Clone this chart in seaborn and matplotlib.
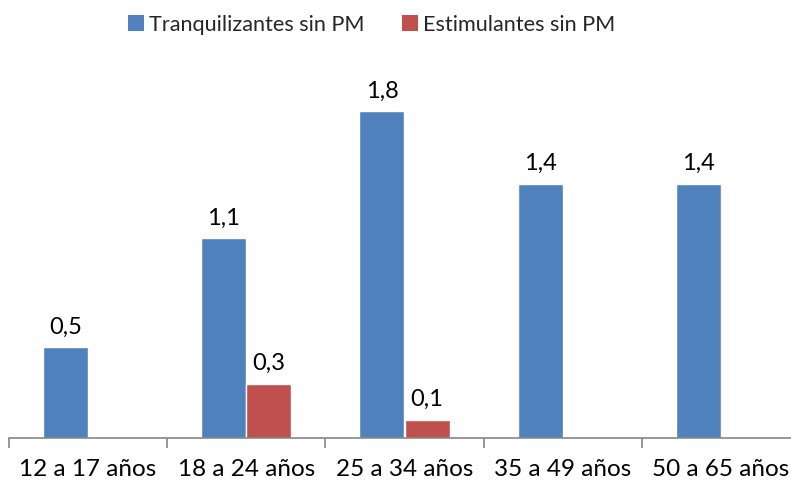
import matplotlib
matplotlib.use("Agg")
import matplotlib.pyplot as plt
import seaborn as sns
import pandas as pd
import numpy as np
from matplotlib.patches import Patch

categories = ["12 a 17 años", "18 a 24 años", "25 a 34 años", "35 a 49 años", "50 a 65 años"]
series_names = ["Tranquilizantes sin PM", "Estimulantes sin PM"]
tranquilizantes = [0.5, 1.1, 1.8, 1.4, 1.4]
estimulantes = [np.nan, 0.3, 0.1, np.nan, np.nan]
colors = ["#4F81BD", "#C0504D"]

df = pd.DataFrame({
    "cat": categories * 2,
    "serie": [series_names[0]] * 5 + [series_names[1]] * 5,
    "val": tranquilizantes + estimulantes,
})

sns.set_theme(style="white")
plt.rcParams["font.family"] = ["Lato", "DejaVu Sans"]

fig = plt.figure(figsize=(7.91, 4.83), dpi=100)
ax = fig.add_axes([9 / 791, 45 / 483, 1.0, 363.2 / 483])
sns.barplot(data=df, x="cat", y="val", hue="serie", hue_order=series_names,
            palette=colors, width=0.57, ax=ax, saturation=1, legend=False,
            errorbar=None)

for cont in ax.containers:
    for bar in cont:
        h = bar.get_height()
        if np.isnan(h) or h == 0:
            continue
        ax.annotate(f"{h:.1f}".replace(".", ","),
                    (bar.get_x() + bar.get_width() / 2, h),
                    xytext=(0, 7), textcoords="offset points",
                    ha="center", va="bottom", fontsize=17, color="#000000")

ax.set_xlim(-0.5, 4.5)
ax.set_ylim(0, 2.0)
ax.set_xlabel("")
ax.set_ylabel("")
ax.set_yticks([])
for s in ["left", "right", "top"]:
    ax.spines[s].set_visible(False)
ax.spines["bottom"].set_color("#868686")
ax.spines["bottom"].set_linewidth(1.2)
ax.set_xticks(range(5))
ax.set_xticklabels(categories, fontsize=17.5, color="#000000")
ax.tick_params(axis="x", which="major", length=0, pad=15)
ax.set_xticks(np.arange(-0.5, 5, 1.0), minor=True)
ax.tick_params(axis="x", which="minor", length=7, width=1.2, color="#868686", direction="out")
ax.tick_params(axis="x", which="minor", bottom=True)

handles = [Patch(facecolor=c, edgecolor="none") for c in colors]
fig.legend(handles, series_names, loc="upper center", bbox_to_anchor=(0.47, 1.01),
           ncol=2, frameon=False, fontsize=15.6, handlelength=0.75, handleheight=0.75,
           handletextpad=0.25, columnspacing=1.7)

fig.savefig("out.png", dpi=100)
